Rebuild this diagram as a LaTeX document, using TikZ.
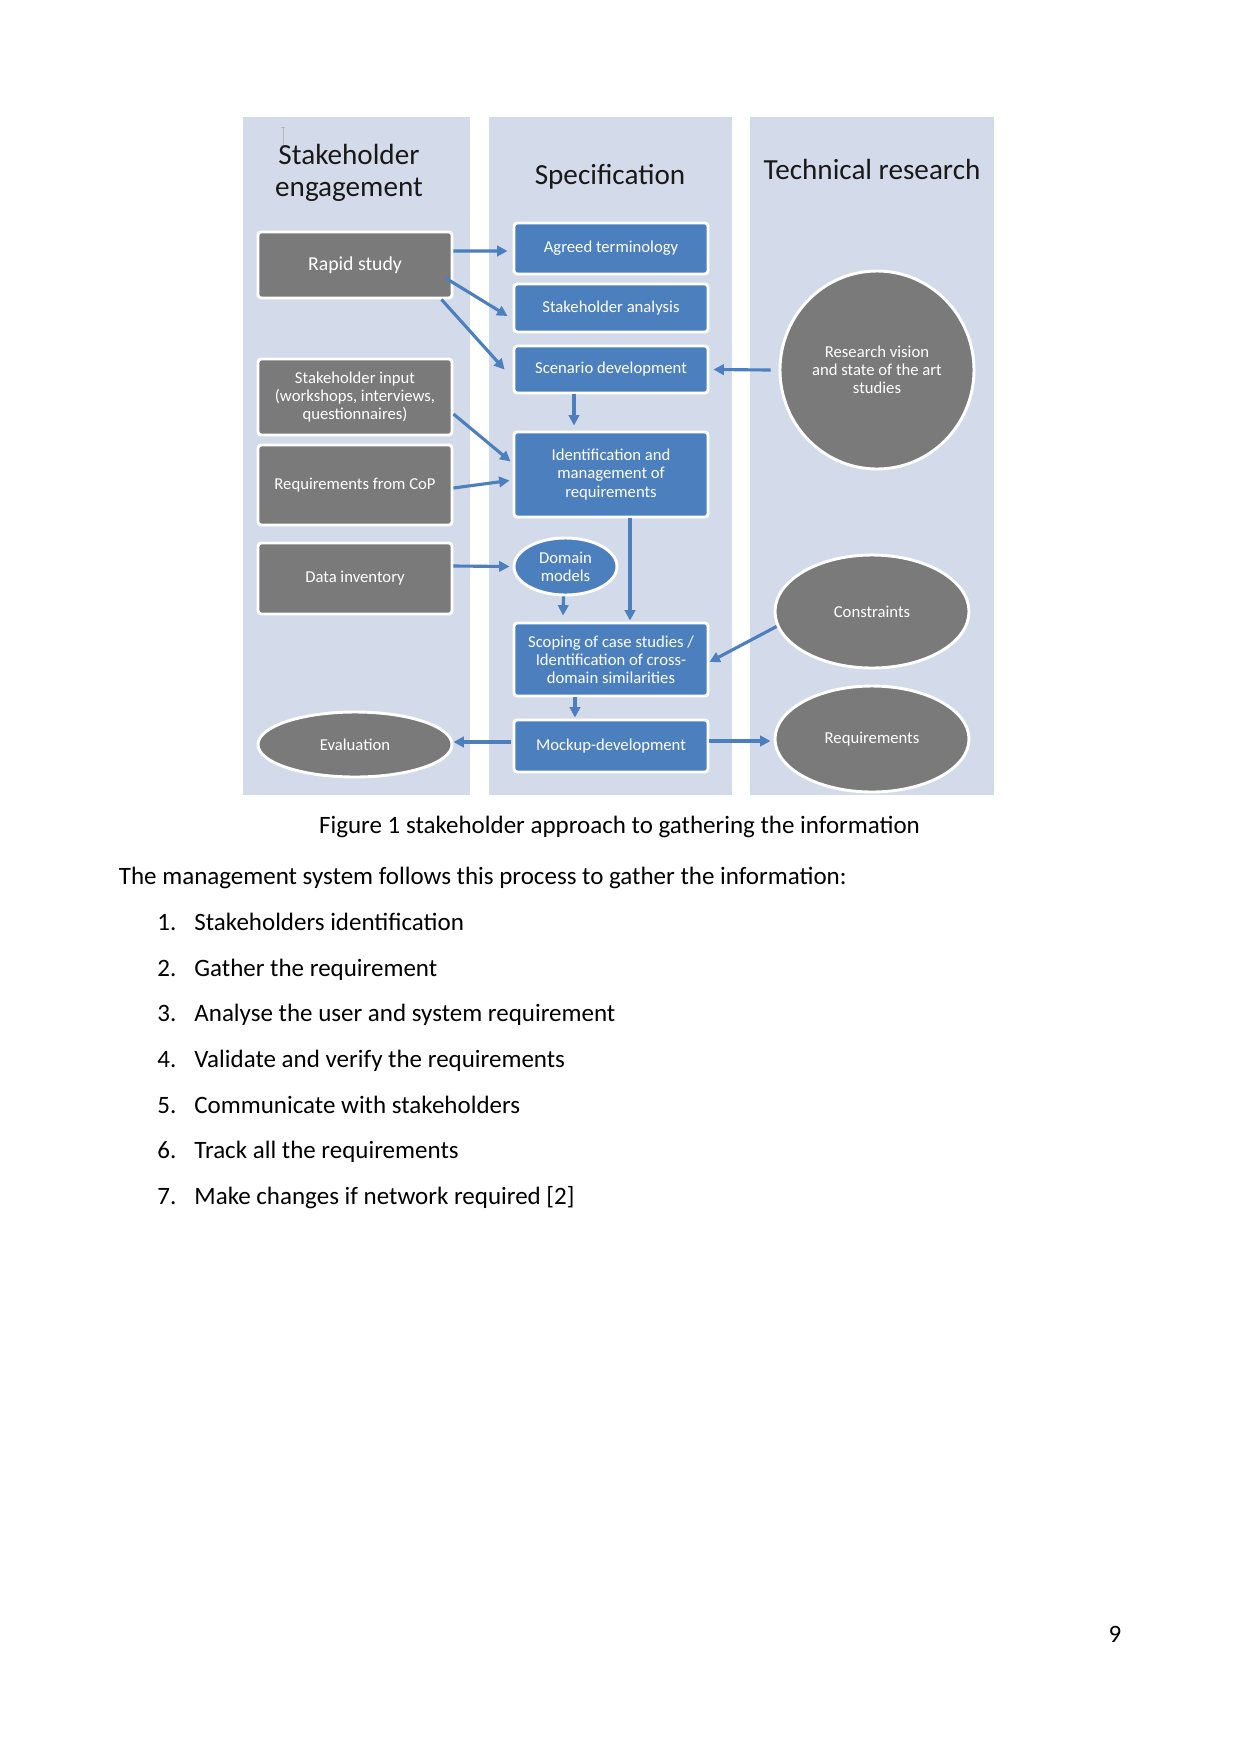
\documentclass[tikz,border=0pt]{standalone}
\usepackage{fontspec}
\setmainfont{Carlito}
\usetikzlibrary{shapes.geometric,arrows.meta,calc}
\definecolor{panelbg}{RGB}{211,218,233}
\definecolor{boxblue}{RGB}{76,127,190}
\definecolor{boxgrey}{RGB}{122,122,122}
\definecolor{arrowblue}{RGB}{76,127,190}
\tikzset{
  panel/.style={fill=panelbg,draw=none},
  sz/.style 2 args={minimum width=#1*0.48pt,minimum height=#2*0.48pt},
  greybox/.style={rectangle,rounded corners=1.5pt,draw=white,line width=1.4pt,fill=boxgrey,text=white,align=center,inner sep=0pt,font=\fontsize{8}{8.7}\selectfont},
  bluebox/.style={greybox,fill=boxblue},
  greyell/.style={ellipse,draw=white,line width=1.4pt,fill=boxgrey,text=white,align=center,inner sep=0pt,font=\fontsize{8}{8.7}\selectfont},
  blueell/.style={greyell,fill=boxblue},
  paneltitle/.style={font=\fontsize{14}{15.4}\selectfont,align=center,text=black!90,inner sep=0pt},
  arr/.style={draw=arrowblue,line width=1.5pt,-{Triangle[length=5pt,width=5pt]}},
  body/.style={font=\fontsize{12}{14}\selectfont,anchor=base west,inner sep=0pt},
}
\begin{document}
\begin{tikzpicture}[x=0.48pt,y=-0.48pt]
\useasboundingbox (0,0) rectangle (1241,1754);
\fill[white] (0,0) rectangle (1241,1754);
% panels
\path[panel] (243,117) rectangle (470,795);
\path[panel] (489,117) rectangle (732,795);
\path[panel] (750,117) rectangle (994,795);
% cursor artefact
\draw[gray!55,line width=0.4pt] (283,127) -- (283,145) (281,127) -- (285,127) (281,145) -- (285,145);
% titles
\node[paneltitle] (t1) at (349,173) {Stakeholder\\engagement};
\node[paneltitle] (t2) at (610,176.5) {Specification};
\node[paneltitle] (t3) at (872,169) {Technical research};
% stakeholder column
\node[greybox,sz={194}{66},font=\fontsize{9.5}{11}\selectfont] (rapid) at (355,265) {Rapid study};
\node[greybox,sz={194}{76}] (si) at (355,397) {Stakeholder input\\(workshops, interviews,\\questionnaires)};
\node[greybox,sz={194}{80}] (cop) at (355,485) {Requirements from CoP};
\node[greybox,sz={194}{71}] (di) at (355,578.5) {Data inventory};
\node[greyell,sz={194}{65}] (eval) at (355,744.5) {Evaluation};
% specification column
\node[bluebox,sz={194}{51}] (agreed) at (611,248.5) {Agreed terminology};
\node[bluebox,sz={194}{48}] (sa) at (611,308) {Stakeholder analysis};
\node[bluebox,sz={194}{47}] (scen) at (611,369.5) {Scenario development};
\node[bluebox,sz={194}{85}] (ident) at (611,474.5) {Identification and\\management of\\requirements};
\node[blueell,sz={103}{57}] (dm) at (565.5,566.5) {Domain\\models};
\node[bluebox,sz={194}{73}] (scop) at (611,659.5) {Scoping of case studies /\\Identification of cross-\\domain similarities};
\node[bluebox,sz={194}{52}] (mock) at (611,746) {Mockup-development};
% technical research column
\node[greyell,sz={194}{198}] (rv) at (877,370) {Research vision\\and state of the art\\studies};
\node[greyell,sz={194}{113}] (con) at (872,611.5) {Constraints};
\node[greyell,sz={194}{106}] (req) at (872,739) {Requirements};
% connectors
\draw[arr] ($(rapid.east)+(0,-14)$) -- ($(agreed.west)+(-5,2.5)$);
\draw[arr] ($(rapid.east)+(-8,13)$) -- ($(sa.west)+(-5,8)$);
\draw[arr] ($(rapid.south east)+(-12,0)$) -- ($(scen.west)+(-8,0)$);
\draw[arr] ($(rv.west)+(-8,0)$) -- ($(scen.east)+(4,0)$);
\draw[arr] ($(scen.south)+(-37,0)$) -- ($(ident.north)+(-37,-5)$);
\draw[arr] ($(si.east)+(0,17)$) -- ($(ident.west)+(-2,-13)$);
\draw[arr] ($(cop.east)+(0,3)$) -- ($(ident.west)+(-3,6)$);
\draw[arr] ($(di.east)+(0,-12.5)$) -- ($(dm.west)+(-3,0)$);
\draw[arr] ($(dm.south)+(-2,0)$) -- ($(scop.north)+(-48,-6)$);
\draw[arr] ($(ident.south)+(19,0)$) -- ($(scop.north)+(19,-1)$);
\draw[arr] ($(con.west)+(3,15)$) -- ($(scop.east)+(0,2.5)$);
\draw[arr] ($(scop.south)+(-36,0)$) -- ($(mock.north)+(-36,-1)$);
\draw[arr] ($(mock.west)+(-2,-4)$) -- ($(eval.east)+(0,-2.5)$);
\draw[arr] ($(mock.east)+(0,-5)$) -- ($(req.west)+(-3,2)$);
% caption and body text
\node[font=\fontsize{12}{14}\selectfont,anchor=base,inner sep=0pt] (cap) at (619.5,833) {Figure 1 stakeholder approach to gathering the information};
\node[body] (intro) at (118.5,884) {The management system follows this process to gather the information:};
\node[body] (n1) at (157,930) {1.};  \node[body] (l1) at (194,930) {Stakeholders identification};
\node[body] (n2) at (157,976) {2.};  \node[body] (l2) at (194,976) {Gather the requirement};
\node[body] (n3) at (157,1021) {3.}; \node[body] (l3) at (194,1021) {Analyse the user and system requirement};
\node[body] (n4) at (157,1067) {4.}; \node[body] (l4) at (194,1067) {Validate and verify the requirements};
\node[body] (n5) at (157,1113) {5.}; \node[body] (l5) at (194,1113) {Communicate with stakeholders};
\node[body] (n6) at (157,1158) {6.}; \node[body] (l6) at (194,1158) {Track all the requirements};
\node[body] (n7) at (157,1204) {7.}; \node[body] (l7) at (194,1204) {Make changes if network required [2]};
\node[font=\fontsize{12}{14}\selectfont,anchor=base,inner sep=0pt] (pg) at (1115,1642) {9};
\end{tikzpicture}
\end{document}
